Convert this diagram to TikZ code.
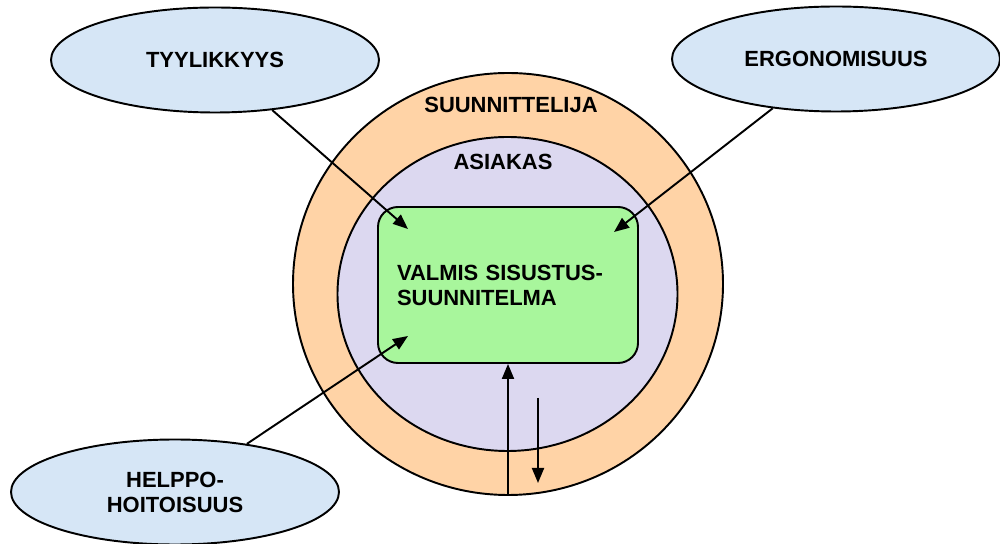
\documentclass[tikz,border=0pt]{standalone}
\usepackage{fontspec}
\setmainfont{Liberation Sans}
\usetikzlibrary{shapes,arrows.meta}
\definecolor{ringorange}{RGB}{255,211,166}
\definecolor{ringlilac}{RGB}{220,216,240}
\definecolor{plangreen}{RGB}{168,246,156}
\definecolor{ideablue}{RGB}{214,230,246}
\tikzset{
	idea/.style     = {draw, ellipse, fill=ideablue, minimum width=6.56cm,
		minimum height=2.1cm, inner sep=0pt, align=center,
		font=\fontsize{12.5}{14.2}\selectfont\bfseries},
	ring/.style     = {draw, ellipse, inner sep=0pt},
	plan/.style     = {draw, rectangle, rounded corners=0.4cm, fill=plangreen,
		minimum height=3.12cm, text width=4.44cm, inner xsep=0.38cm, align=left,
		font=\fontsize{12.5}{14.2}\selectfont\bfseries},
	ringtext/.style = {font=\fontsize{12.5}{14.2}\selectfont\bfseries} % labels on the rings
}

\begin{document}
\begin{tikzpicture}[x=0.2mm, y=-0.2mm, line width=1.1pt, >={Triangle[length=3mm,width=2.4mm]}]
\useasboundingbox (0,0) rectangle (1000,544);
\draw
node at (508,284) [ring, fill=ringorange, minimum width=8.6cm, minimum height=8.44cm] (suun) {}
node at (507.5,294) [ring, fill=ringlilac, minimum width=6.8cm, minimum height=6.28cm] (asiakas) {}
node at (508,285) [plan] (valmis) {VALMIS SISUSTUS-\\SUUNNITELMA}
node at (215,60) [idea] (tyyli) {TYYLIKKYYS}
node at (836,59) [idea] (ergo) {ERGONOMISUUS}
node at (175,492) [idea] (helppo) {HELPPO-\\HOITOISUUS}
node at (511,105) [ringtext] (tsuun) {SUUNNITTELIJA}
node at (503,162) [ringtext] (tasiakas) {ASIAKAS};

\coordinate (t1) at (408,229);
\coordinate (t2) at (614,232);
\coordinate (t3) at (408,336);
\coordinate (d1) at (538,398);
\coordinate (d2) at (538,483);

\draw[->](tyyli)--(t1);
\draw[->](ergo)--(t2);
\draw[->](helppo)--(t3);
\draw[->](suun.south)--(valmis.south);
\draw[->](d1)--(d2);
\end{tikzpicture}
\end{document}
